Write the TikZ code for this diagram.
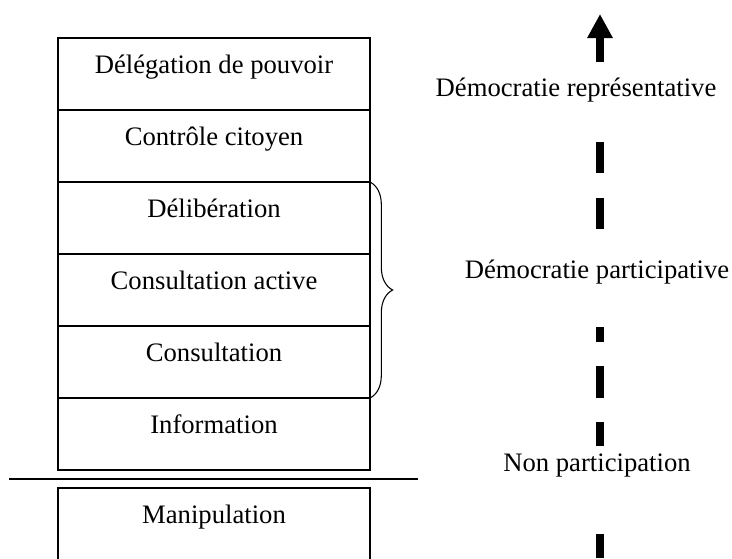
\documentclass[tikz,border=0pt]{standalone}
\usepackage{fontspec}
\setmainfont{Liberation Serif}
\usetikzlibrary{positioning,arrows.meta,decorations.pathreplacing}
\tikzset{
  rung/.style={draw, line width=0.8pt, minimum width=234pt, inner sep=0pt, outer sep=0pt,
    text height=26.25pt, text depth=27.75pt, font=\fontsize{20}{24}\selectfont},
  side/.style={anchor=base, font=\fontsize{20}{24}\selectfont}
}
\begin{document}
\begin{tikzpicture}[x=0.75pt, y=-0.75pt]
  \useasboundingbox (0,0) rectangle (732,558);

  % Ladder of participation
  \node[rung, anchor=north] (deleg) at (214,38) {Délégation de pouvoir};
  \node[rung, below=0pt of deleg] (controle) {Contrôle citoyen};
  \node[rung, below=0pt of controle] (delib) {Délibération};
  \node[rung, below=0pt of delib] (active) {Consultation active};
  \node[rung, below=0pt of active] (consult) {Consultation};
  \node[rung, below=0pt of consult] (info) {Information};

  % Separator
  \coordinate (sepL) at (9,479);
  \coordinate (sepR) at (418,479);
  \draw[line width=0.8pt] (sepL) -- (sepR);

  \node[rung, anchor=north] (manip) at (214,488) {Manipulation};

  % Brace
  \draw[line width=0.8pt, decorate, decoration={brace, amplitude=17pt}]
    (delib.north east) -- (consult.south east);

  % Axis
  \coordinate (axisfoot) at (600,558);
  \coordinate (axistip) at (600,14);
  \draw[line width=6pt, -{Triangle[length=18pt, width=18pt]},
    dash pattern=on 18pt off 66pt on 18pt off 18pt on 24pt off 18pt on 11.25pt off 73.5pt
      on 23.25pt off 18.75pt on 23.25pt off 60pt on 18pt off 100pt]
    (axisfoot) -- (axistip);

  \node[side] (rep) at (576,96) {Démocratie représentative};
  \node[side] (part) at (597,278) {Démocratie participative};
  \node[side] (nonpart) at (597,471) {Non participation};
\end{tikzpicture}
\end{document}
